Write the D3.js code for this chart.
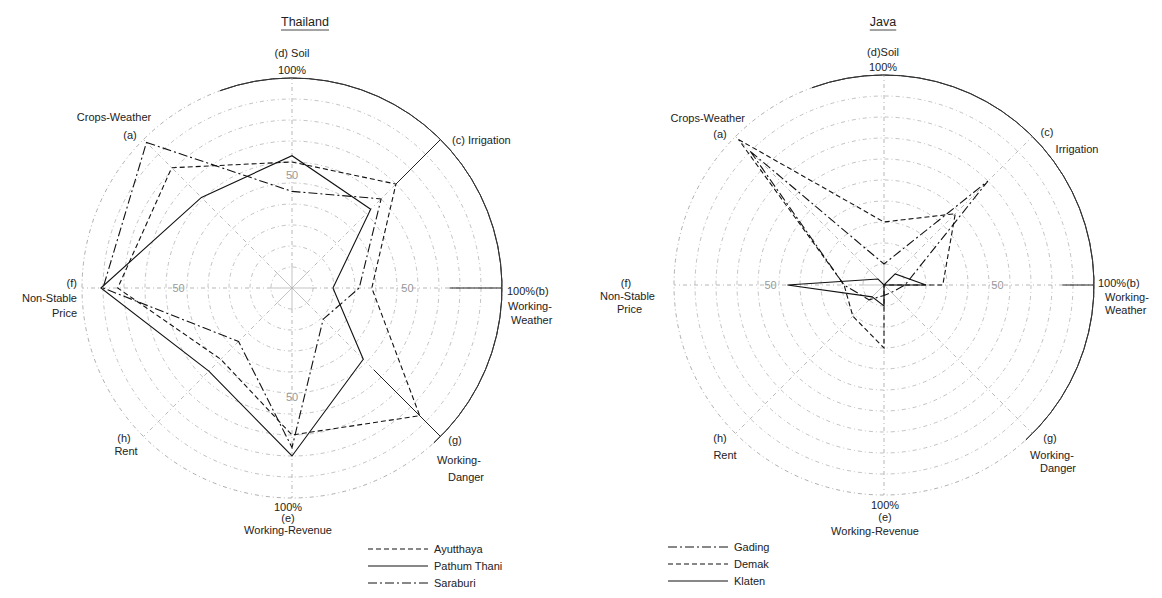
<!DOCTYPE html>
<html><head><meta charset="utf-8">
<script src="https://cdn.jsdelivr.net/npm/d3@7/dist/d3.min.js"></script>
<style>body{margin:0;background:#fff}svg text{font-family:"Liberation Sans",Arial,sans-serif;fill:#222}</style>
</head><body><svg id="c" width="1162" height="598"></svg>
<script>
// ---- data ----
const categories = ["Crops-Weather","Soil","Irrigation","Working-Weather","Working-Danger","Working-Revenue","Rent","Non-Stable Price"];
const axisCodes = ["a","d","c","b","g","e","h","f"];
const ringTicks = [10,20,30,40,50,60,70,80,90,100];
const thailandNames = ["Ayutthaya","Pathum Thani","Saraburi"];
const ayutthaya   = [81,60,70,38,86,70,48,83];
const pathumThani = [61,63,53,19.5,48,80,56,91];
const saraburi    = [98,46,60,32,21,76,36,90];
const javaNames = ["Gading","Demak","Klaten"];
const gading = [90,10,70,10,5,5,10,19];
const demak  = [98,30,48,28,0,30,21,19];
const klaten = [4,0,7.5,20,0,10,8,46];

const svg = d3.select("#c");
const DASH = "5,3", DASHDOT = "9,3,2,3", GRID = "4,3,1,3";

function drawRadar(opt){
  const g = svg.append("g").attr("transform",`translate(${opt.cx},${opt.cy})`);
  const R = opt.R;
  const r = d3.scaleLinear().domain([0,100]).range([0,R]);
  const ang = d3.scaleLinear().domain([0,8]).range([-Math.PI/4, 2*Math.PI-Math.PI/4]);
  const pt = (i,v)=>[Math.sin(ang(i))*r(v), -Math.cos(ang(i))*r(v)];
  // rings
  g.selectAll("circle.ring").data(ringTicks.slice(0,-1)).join("circle")
    .attr("r",d=>r(d)).attr("fill","none").attr("stroke","#a8a8a8")
    .attr("stroke-width",0.7).attr("stroke-dasharray",GRID);
  g.append("circle").attr("r",r(100)).attr("fill","none").attr("stroke","#999")
    .attr("stroke-width",0.8).attr("stroke-dasharray",GRID);
  const arc = d3.arc().innerRadius(r(100)).outerRadius(r(100)).startAngle(-0.35).endAngle(2.4);
  g.append("path").attr("d",arc()).attr("fill","none").attr("stroke","#333").attr("stroke-width",1);
  // axes
  categories.forEach((c,i)=>{
    const [x,y]=pt(i,100), [x0,y0]=pt(i,10);
    g.append("line").attr("x1",x0).attr("y1",y0).attr("x2",x).attr("y2",y)
      .attr("stroke","#999").attr("stroke-width",0.7).attr("stroke-dasharray",GRID);
    g.append("line").attr("x1",0).attr("y1",0).attr("x2",pt(i,10)[0]).attr("y2",pt(i,10)[1])
      .attr("stroke","#aaa").attr("stroke-width",0.7);
  });
  opt.solidAxes.forEach(([i,from])=>{
    const [x0,y0]=pt(i,from),[x1,y1]=pt(i,100);
    g.append("line").attr("x1",x0).attr("y1",y0).attr("x2",x1).attr("y2",y1)
      .attr("stroke","#222").attr("stroke-width",1);
  });
  // 50 labels
  opt.fifty.forEach(([i,dx,dy])=>{
    const [x,y]=pt(i,54);
    g.append("text").attr("x",x+dx).attr("y",y+dy).attr("text-anchor","middle")
      .attr("font-size",11).style("fill","#999").text("50");
  });
  // series
  const line = d3.lineRadial().angle((d,i)=>ang(i)).radius(d=>r(d)).curve(d3.curveLinearClosed);
  opt.series.forEach(s=>{
    g.append("path").attr("d",line(s.values)).attr("fill","none").attr("stroke","#111")
      .attr("stroke-width",1.1).attr("stroke-dasharray",s.dash);
  });
  // labels
  opt.labels.forEach(l=>{
    g.append("text").attr("x",l[0]).attr("y",l[1]).attr("text-anchor",l[3]||"middle")
      .attr("font-size",l[4]||11).text(l[2]);
  });
  // title
  const t = svg.append("text").attr("x",opt.cx+opt.titleDx).attr("y",26).attr("text-anchor","middle")
    .attr("font-size",12.5).text(opt.title);
  const bb = t.node().getBBox();
  svg.append("line").attr("x1",bb.x).attr("x2",bb.x+bb.width).attr("y1",30).attr("y2",30)
    .attr("stroke","#333").attr("stroke-width",0.9);
  // legend
  const lg = svg.append("g").attr("transform",`translate(${opt.legX},${opt.legY})`);
  opt.series.forEach((s,k)=>{
    const y = k*opt.legStep;
    lg.append("line").attr("x1",0).attr("x2",60).attr("y1",y).attr("y2",y)
      .attr("stroke","#111").attr("stroke-width",1).attr("stroke-dasharray",s.dash);
    lg.append("text").attr("x",66).attr("y",y+4).attr("font-size",11).text(s.name);
  });
}

drawRadar({
  cx:292, cy:288, R:210, title:"Thailand", titleDx:13,
  solidAxes:[[2,70],[3,75],[4,55]],
  fifty:[[1,0,4],[3,2,4],[5,0,0],[7,0,4]],
  series:[
    {name:thailandNames[0], values:ayutthaya, dash:DASH},
    {name:thailandNames[1], values:pathumThani, dash:null},
    {name:thailandNames[2], values:saraburi, dash:DASHDOT}
  ],
  labels:[
    [0,-231,"(d) Soil"],[0,-214,"100%"],
    [-178,-167,"Crops-Weather"],[-162,-149,"(a)"],
    [160,-144,"(c) Irrigation","start"],
    [215,7,"100%(b)","start"],[216,22,"Working-","start"],[219,36,"Weather","start"],
    [163,156,"(g)"],[167,176,"Working-"],[174,193,"Danger"],
    [-4,223,"100%"],[-4,234,"(e)"],[-4,246,"Working-Revenue"],
    [-168,154,"(h)"],[-166,167,"Rent"],
    [-215,-1,"(f)","end"],[-215,14,"Non-Stable","end"],[-215,29,"Price","end"]
  ],
  legX:368, legY:549, legStep:17
});

drawRadar({
  cx:884, cy:285, R:210, title:"Java", titleDx:-1,
  solidAxes:[[3,85]],
  fifty:[[3,0,4],[7,0,4]],
  series:[
    {name:javaNames[0], values:gading, dash:DASHDOT},
    {name:javaNames[1], values:demak, dash:DASH},
    {name:javaNames[2], values:klaten, dash:null}
  ],
  labels:[
    [-1,-229,"(d)Soil"],[-1,-214,"100%"],
    [-139,-163,"Crops-Weather","end"],[-164,-147,"(a)"],
    [163,-149,"(c)"],[193,-132,"Irrigation"],
    [214,2,"100%(b)","start"],[221,16,"Working-","start"],[221,29,"Weather","start"],
    [166,157,"(g)"],[168,174,"Working-"],[174,187,"Danger"],
    [1,224,"100%"],[1,236,"(e)"],[-9,250,"Working-Revenue"],
    [-164,157,"(h)"],[-159,174,"Rent"],
    [-258,2,"(f)"],[-229,15,"Non-Stable","end"],[-242,28,"Price","end"]
  ],
  legX:668, legY:547, legStep:17
});
</script></body></html>
